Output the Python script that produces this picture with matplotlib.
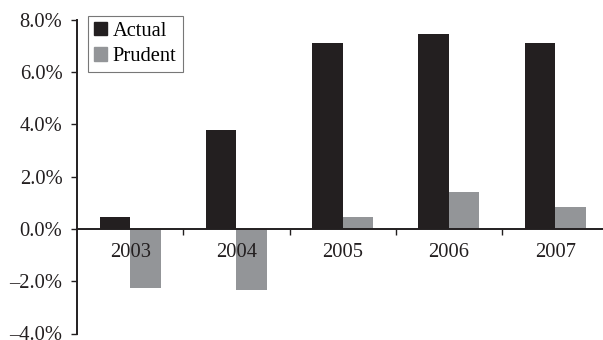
import matplotlib
matplotlib.use("Agg")
import matplotlib.pyplot as plt
import numpy as np
from matplotlib.patches import Patch

years = ["2003", "2004", "2005", "2006", "2007"]
actual = [0.45, 3.78, 7.12, 7.47, 7.12]
prudent = [-2.27, -2.34, 0.45, 1.42, 0.83]
y_ticks = [-4, -2, 0, 2, 4, 6, 8]

DARK = "#231f20"
GREY = "#939598"

plt.rcParams["font.family"] = ["Liberation Serif", "DejaVu Serif"]
plt.rcParams["font.size"] = 14.8

fig = plt.figure(figsize=(6.03, 3.40), dpi=100)
ax = fig.add_axes([77 / 603, 1 - 333.5 / 340, 1 - 77 / 603, (333.5 - 20) / 340])

x = np.arange(len(years))
w = 0.287
ax.bar(x - w / 2, actual, w, color=DARK, linewidth=0)
ax.bar(x + w / 2, prudent, w, color=GREY, linewidth=0)

ax.set_xlim(-0.5, 4.45)
ax.set_ylim(-4, 8)

for s in ("top", "right"):
    ax.spines[s].set_visible(False)
ax.spines["left"].set_linewidth(1.4)
ax.spines["bottom"].set_linewidth(1.4)
ax.spines["bottom"].set_position(("data", 0))
ax.spines["left"].set_color(DARK)
ax.spines["bottom"].set_color(DARK)

ax.set_yticks(y_ticks)
ax.set_yticklabels([f"{v:.1f}%".replace("-", "\u2013") for v in y_ticks])
ax.tick_params(axis="y", length=4, width=1, pad=6.5, colors=DARK)

# category boundaries get the tick marks, centres carry the year labels
ax.set_xticks(x[:-1] + 0.5)
ax.set_xticklabels([])
ax.set_xticks(x, minor=True)
ax.set_xticklabels(years, minor=True)
ax.tick_params(axis="x", which="major", length=4, width=1, direction="out", colors=DARK)
ax.tick_params(axis="x", which="minor", length=0, pad=10, colors=DARK)

handles = [Patch(color=DARK, label="Actual"), Patch(color=GREY, label="Prudent")]
leg = ax.legend(handles=handles, loc="upper left", bbox_to_anchor=(0.021, 1.013),
                frameon=True, fancybox=False, edgecolor="#555555",
                handlelength=0.6, handleheight=0.6, handletextpad=0.3,
                borderpad=0.3, labelspacing=0.3, borderaxespad=0)
leg.get_frame().set_linewidth(0.8)

fig.savefig("out.png", dpi=100)
